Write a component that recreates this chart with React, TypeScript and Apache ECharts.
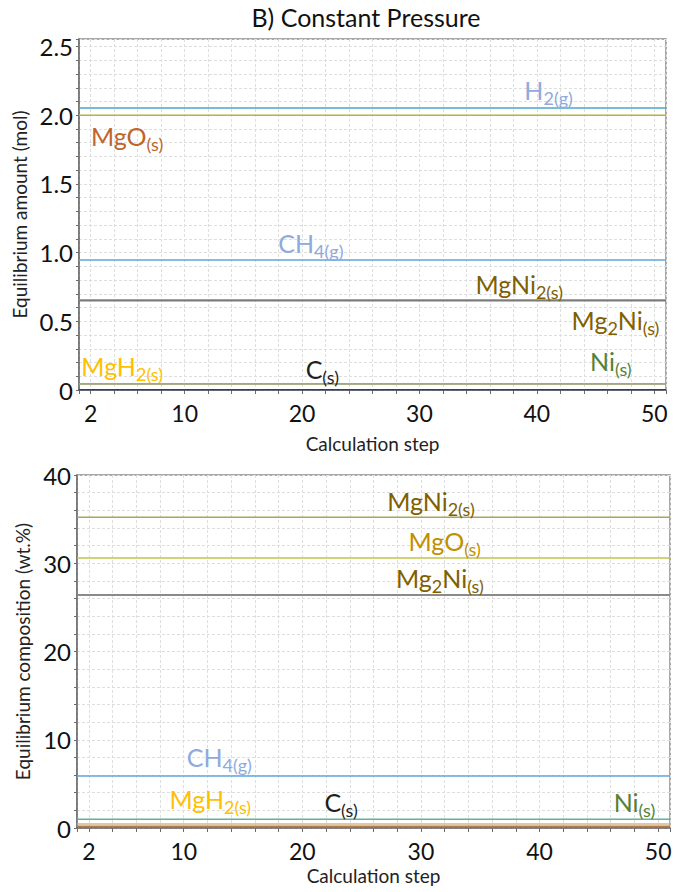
import React, { useEffect, useRef } from "react";
import * as echarts from "echarts";

// Calculation steps covered by the plot (constant equilibrium across all steps)
const STEP_RANGE = [1, 51];
const X_LABEL_STEPS = [2, 10, 20, 30, 40, 50];

// Panel 1: equilibrium amount (mol)
const AMOUNT_SPECIES = ["H2(g)", "MgO(s)", "CH4(g)", "MgNi2(s)", "Mg2Ni(s)", "Ni(s)", "MgH2(s)", "C(s)"];
const AMOUNT_VALUES = [2.053, 2.0, 0.947, 0.656, 0.651, 0.044, 0.046, 0.002];
const AMOUNT_LINE_COLORS = ["#4BA6CB", "#B9B33C", "#5FA6DA", "#C9B98E", "#7A7A7A", "#6DB48A", "#C39B6E", "#2D3E64"];
const AMOUNT_Y_LABELS = [0, 0.5, 1.0, 1.5, 2.0, 2.5];

// Panel 2: equilibrium composition (wt.%)
const COMP_SPECIES = ["MgNi2(s)", "MgO(s)", "Mg2Ni(s)", "CH4(g)", "Ni(s)", "MgH2(s)", "C(s)"];
const COMP_VALUES = [35.2, 30.6, 26.4, 5.9, 1.0, 0.45, 0.2];
const COMP_LINE_COLORS = ["#A8A65A", "#C2C24A", "#8A8A8A", "#5FA6DA", "#5DB592", "#D9B483", "#B07D4E"];
const COMP_Y_LABELS = [0, 10, 20, 30, 40];

// Chemical formulas split into [text, isSubscript] parts
const FORMULAS: Record<string, [string, boolean][]> = {
  "H2(g)": [["H", false], ["2(g)", true]],
  "MgO(s)": [["MgO", false], ["(s)", true]],
  "CH4(g)": [["CH", false], ["4(g)", true]],
  "MgNi2(s)": [["MgNi", false], ["2(s)", true]],
  "Mg2Ni(s)": [["Mg", false], ["2", true], ["Ni", false], ["(s)", true]],
  "MgH2(s)": [["MgH", false], ["2(s)", true]],
  "Ni(s)": [["Ni", false], ["(s)", true]],
  "C(s)": [["C", false], ["(s)", true]],
};

// Annotation anchors in data coordinates [step, value]
const AMOUNT_LABELS = [
  { species: "H2(g)", at: [41.0, 2.184], color: "#8FAADC" },
  { species: "MgO(s)", at: [5.1, 1.85], color: "#C0652A" },
  { species: "CH4(g)", at: [20.75, 1.071], color: "#8FAADC" },
  { species: "MgNi2(s)", at: [38.5, 0.773], color: "#7F6000" },
  { species: "Mg2Ni(s)", at: [46.7, 0.511], color: "#7F6000" },
  { species: "MgH2(s)", at: [4.68, 0.176], color: "#FFC000" },
  { species: "C(s)", at: [21.73, 0.15], color: "#1F1F1F" },
  { species: "Ni(s)", at: [46.3, 0.209], color: "#548235" },
];
const COMP_LABELS = [
  { species: "MgNi2(s)", at: [30.85, 37.05], color: "#7F6000" },
  { species: "MgO(s)", at: [32.0, 32.5], color: "#BF9000" },
  { species: "Mg2Ni(s)", at: [31.6, 28.3], color: "#7F6000" },
  { species: "CH4(g)", at: [13.0, 8.05], color: "#8FAADC" },
  { species: "MgH2(s)", at: [12.24, 3.29], color: "#FFC000" },
  { species: "C(s)", at: [23.27, 3.0], color: "#1F1F1F" },
  { species: "Ni(s)", at: [48.0, 3.0], color: "#548235" },
];

const FONT = 'Lato, "Noto Sans", sans-serif';
const MAIN_SIZE = 25;
const SUB_SIZE = 18;

function formulaRich(species: string) {
  return FORMULAS[species].map(([t, sub]) => `{${sub ? "s" : "m"}|${t}}`).join("");
}

function buildSeries(gridIndex: number, species: string[], values: number[], colors: string[], labels: any[]) {
  return species.map((name, i) => {
    const lab = labels.find((l) => l.species === name);
    const s: any = {
      type: "line",
      name,
      xAxisIndex: gridIndex,
      yAxisIndex: gridIndex,
      data: STEP_RANGE.map((step) => [step, values[i]]),
      symbol: "none",
      showSymbol: false,
      silent: true,
      lineStyle: { color: colors[i], width: name === "Mg2Ni(s)" ? 2 : 1.5 },
      itemStyle: { color: colors[i] },
    };
    if (lab) {
      const text = formulaRich(name);
      s.markPoint = {
        symbol: "circle",
        symbolSize: 0,
        silent: true,
        animation: false,
        label: {
          show: true,
          position: "inside",
          color: lab.color,
          formatter: () => text,
          rich: {
            m: { fontFamily: FONT, fontSize: MAIN_SIZE, color: lab.color },
            s: { fontFamily: FONT, fontSize: SUB_SIZE, color: lab.color, padding: [16, 0, 0, 0] },
          },
        },
        data: [{ coord: lab.at }],
      };
    }
    return s;
  });
}

const near = (list: number[], v: number) => list.some((t) => Math.abs(t - v) < 1e-6);

const GRID_LINE = { color: "#dedede", type: [3, 2], width: 1 };

function xAxis(gridIndex: number, nameGap: number) {
  return {
    type: "value",
    gridIndex,
    min: STEP_RANGE[0],
    max: STEP_RANGE[1],
    splitNumber: 25,
    minInterval: 2,
    maxInterval: 2,
    axisLine: { show: true, onZero: false, lineStyle: { color: "#6b6b6b", width: 1.5 } },
    axisTick: { show: true, length: 4, lineStyle: { color: "#6b6b6b" } },
    axisLabel: {
      formatter: (v: number) => (near(X_LABEL_STEPS, v) ? String(Math.round(v)) : ""),
      fontFamily: FONT,
      fontSize: 23,
      color: "#111",
      margin: 11,
    },
    splitLine: { show: true, lineStyle: GRID_LINE },
    name: "Calculation step",
    nameLocation: "middle",
    nameGap,
    nameTextStyle: { fontFamily: FONT, fontSize: 19, color: "#222" },
  };
}

function yAxis(gridIndex: number, opts: any) {
  return {
    type: "value",
    gridIndex,
    min: 0,
    max: opts.max,
    ...(opts.interval ? { interval: opts.interval } : { splitNumber: opts.splitNumber, minInterval: opts.minor, maxInterval: opts.minor }),
    axisLine: { show: true, onZero: false, lineStyle: { color: "#6b6b6b", width: 1.5 } },
    axisTick: { show: true, length: 3, lineStyle: { color: "#6b6b6b" } },
    axisLabel: {
      formatter: (v: number) => (near(opts.labels, v) ? (v === 0 ? "0" : opts.fmt(v)) : ""),
      fontFamily: FONT,
      fontSize: 24,
      color: "#111",
      margin: 6,
    },
    splitLine: { show: true, lineStyle: GRID_LINE },
    name: opts.name,
    nameLocation: "middle",
    nameGap: opts.nameGap,
    nameTextStyle: { fontFamily: FONT, fontSize: 19, color: "#222" },
  };
}

export default function App() {
  const ref = useRef<HTMLDivElement>(null);

  useEffect(() => {
    if (!ref.current) return;
    const chart = echarts.init(ref.current, undefined, { renderer: "svg" });
    chart.setOption({
      animation: false,
      backgroundColor: "#ffffff",
      textStyle: { fontFamily: FONT },
      graphic: [
        {
          type: "text",
          x: 366,
          y: 17,
          style: {
            text: "B) Constant Pressure",
            fontFamily: FONT,
            fontSize: 25,
            fill: "#111",
            textAlign: "center",
            textVerticalAlign: "middle",
          },
        },
      ],
      grid: [
        { left: 79, top: 39, width: 587, height: 351, show: true, borderColor: "#8c8c8c", borderWidth: 1.5, backgroundColor: "transparent" },
        { left: 77, top: 475, width: 593, height: 353, show: true, borderColor: "#8c8c8c", borderWidth: 1.5, backgroundColor: "transparent" },
      ],
      xAxis: [xAxis(0, 44), xAxis(1, 38)],
      yAxis: [
        yAxis(0, {
          max: 2.555,
          splitNumber: 25,
          minor: 0.1,
          labels: AMOUNT_Y_LABELS,
          fmt: (v: number) => v.toFixed(1),
          name: "Equilibrium amount (mol)",
          nameGap: 44,
        }),
        yAxis(1, {
          max: 40,
          interval: 2,
          labels: COMP_Y_LABELS,
          fmt: (v: number) => String(Math.round(v)),
          name: "Equilibrium composition (wt.%)",
          nameGap: 37,
        }),
      ],
      series: [
        ...buildSeries(0, AMOUNT_SPECIES, AMOUNT_VALUES, AMOUNT_LINE_COLORS, AMOUNT_LABELS),
        ...buildSeries(1, COMP_SPECIES, COMP_VALUES, COMP_LINE_COLORS, COMP_LABELS),
      ],
    });
    return () => chart.dispose();
  }, []);

  return (
    <div
      ref={ref}
      style={{ position: "fixed", left: 0, top: 0, width: 688, height: 892, background: "#fff" }}
    />
  );
}
